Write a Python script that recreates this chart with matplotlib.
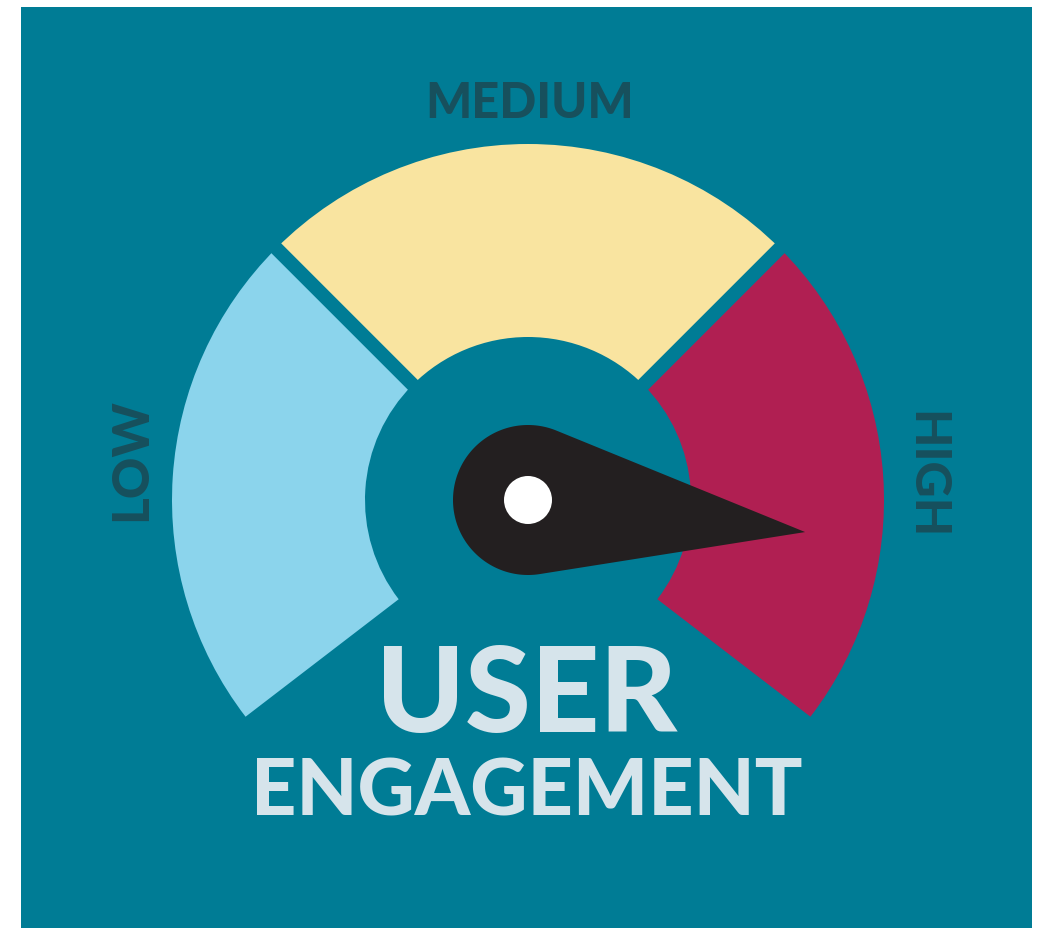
import numpy as np
import matplotlib.pyplot as plt
from matplotlib.patches import Wedge, Circle, Polygon, Rectangle

# gauge segments (angles in degrees, counter-clockwise from +x)
segment_names = ['LOW', 'MEDIUM', 'HIGH']
segment_start = [135.0, 45.0, -37.5]
segment_end = [217.5, 135.0, 45.0]
segment_colors = ['#8bd4ec', '#f9e4a0', '#b01f52']

# needle reading (degrees)
needle_angle = -6.6

title_lines = ['USER', 'ENGAGEMENT']

teal = '#007c95'
label_dark = '#17505d'
text_light = '#d6e4eb'

W, H = 1045, 931
fig = plt.figure(figsize=(W / 100, H / 100), dpi=100)
ax = fig.add_axes([0, 0, 1, 1])
ax.set_xlim(0, W)
ax.set_ylim(0, H)
ax.set_aspect('equal')
ax.axis('off')
fig.patch.set_facecolor('white')

# teal panel
ax.add_patch(Rectangle((21, H - 928), 1011, 921, facecolor=teal, edgecolor='none'))

cx, cy = 528, H - 500
r_out, r_in = 356, 163

for a0, a1, col in zip(segment_start, segment_end, segment_colors):
    ax.add_patch(Wedge((cx, cy), r_out, a0, a1, width=r_out - r_in,
                       facecolor=col, edgecolor='none'))

# gaps between segments
for a in segment_start[:2]:
    t = np.deg2rad(a)
    ax.plot([cx + (r_in - 5) * np.cos(t), cx + (r_out + 5) * np.cos(t)],
            [cy + (r_in - 5) * np.sin(t), cy + (r_out + 5) * np.sin(t)],
            color=teal, lw=10, solid_capstyle='butt')

# needle: circle + tangent lines to the tip
rn = 75
L = 279
t = np.deg2rad(needle_angle)
tip = np.array([cx + L * np.cos(t), cy + L * np.sin(t)])
beta = np.arccos(rn / L)
arc = np.linspace(t + beta, t + 2 * np.pi - beta, 200)
pts = np.column_stack([cx + rn * np.cos(arc), cy + rn * np.sin(arc)])
pts = np.vstack([pts, tip])
ax.add_patch(Polygon(pts, closed=True, facecolor='#231f20', edgecolor='none'))
ax.add_patch(Circle((cx, cy), 24, facecolor='white', edgecolor='none'))

font = ['Lato', 'DejaVu Sans']
wt = 'black'
ax.text(530, H - 103, segment_names[1], ha='center', va='center', fontsize=35,
        fontweight=wt, color=label_dark, family=font)
ax.text(132, H - 460, segment_names[0], ha='center', va='center', fontsize=37,
        fontweight=wt, color=label_dark, family=font, rotation=90)
ax.text(926, H - 475, segment_names[2], ha='center', va='center', fontsize=36,
        fontweight=wt, color=label_dark, family=font, rotation=-90)

ax.text(527, H - 698, title_lines[0], ha='center', va='center', fontsize=86,
        fontweight=wt, color=text_light, family=font)
ax.text(527, H - 793, title_lines[1], ha='center', va='center', fontsize=57,
        fontweight=wt, color=text_light, family=font)

fig.savefig('out.png', dpi=100)
